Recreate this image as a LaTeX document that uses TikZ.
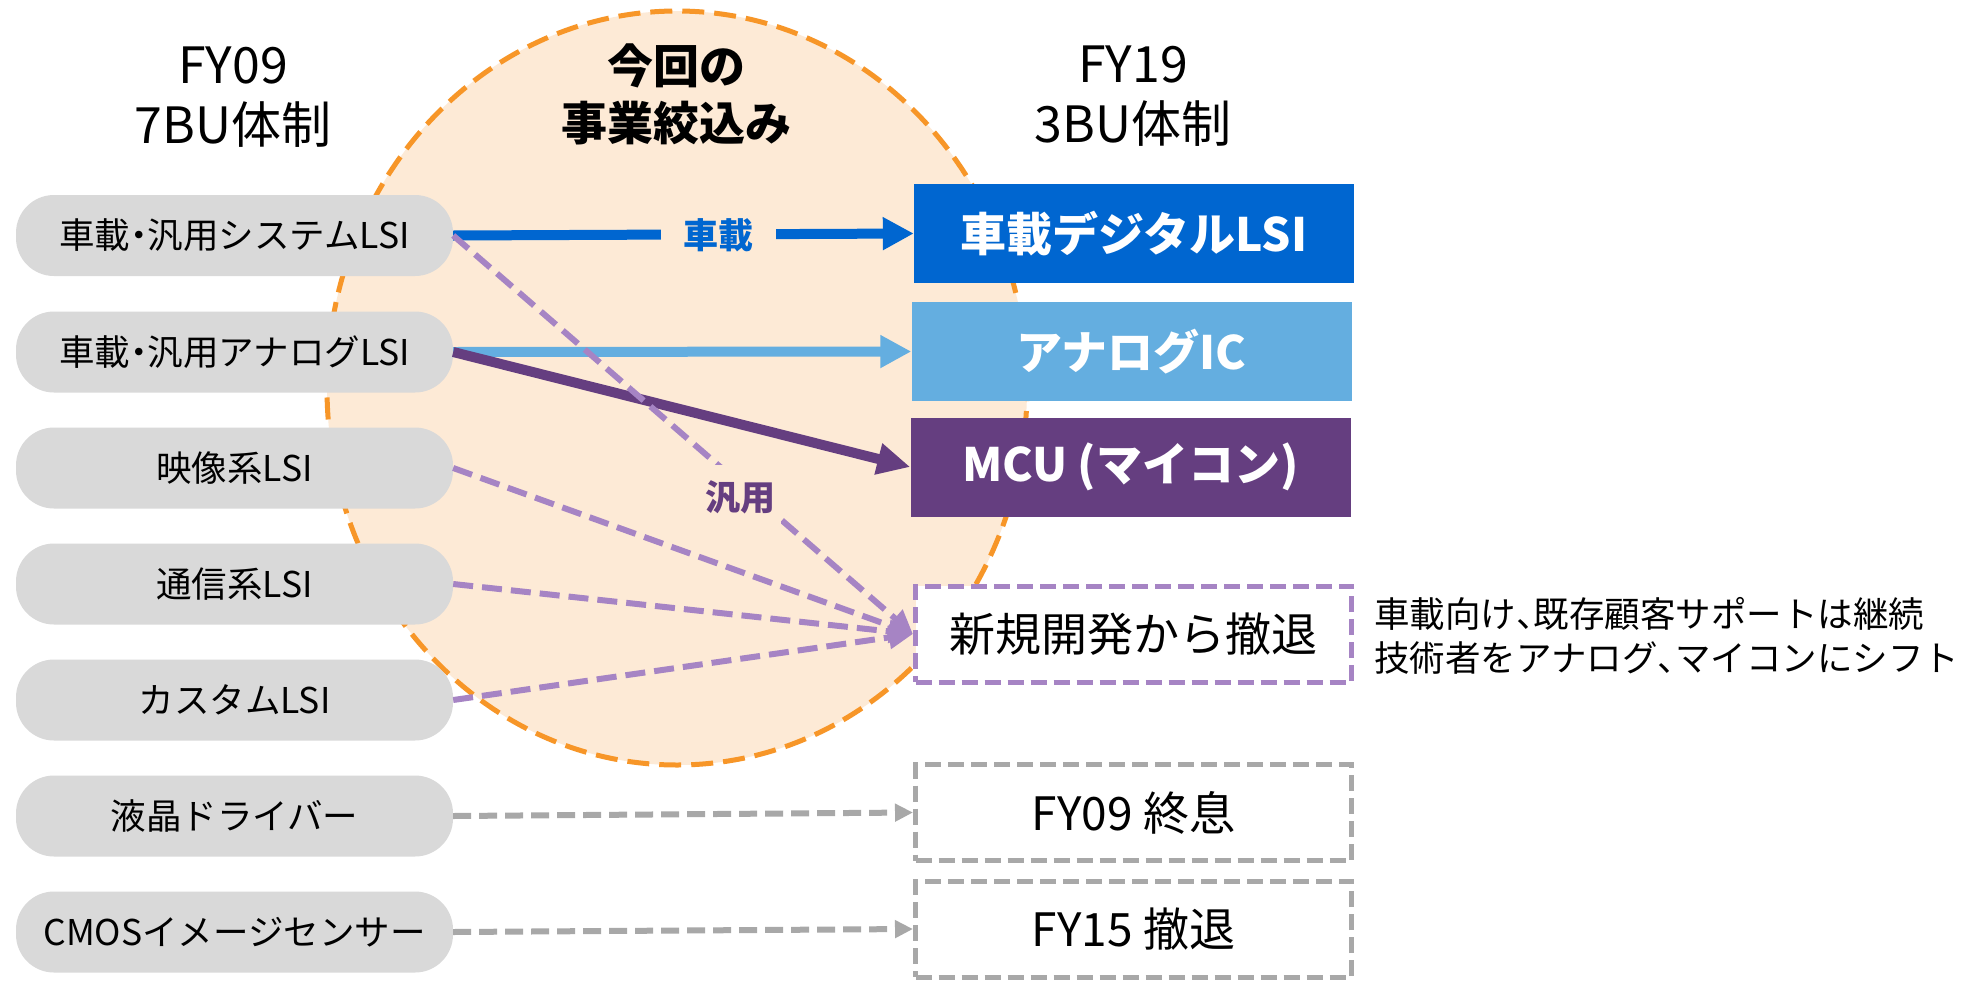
\documentclass[tikz,border=0pt]{standalone}
\usepackage{fontspec}
\setmainfont{Noto Sans CJK JP}
\newfontfamily\hwfont{Noto Sans CJK JP}[RawFeature=+halt]
\newcommand{\hwdot}{{\hwfont ・}}
\newcommand{\hwcomma}{{\hwfont 、}}
\usetikzlibrary{arrows.meta}
\definecolor{peach}{RGB}{253,234,214}
\definecolor{orng}{RGB}{247,150,40}
\definecolor{dblue}{RGB}{0,102,208}
\definecolor{lblue}{RGB}{100,174,224}
\definecolor{dpurp}{RGB}{101,62,128}
\definecolor{lpurp}{RGB}{166,132,196}
\definecolor{pillgray}{RGB}{217,217,217}
\definecolor{dgray}{RGB}{168,168,168}
\begin{document}
\begin{tikzpicture}[x=1pt,y=-1pt,
  pill/.style={fill=pillgray, rounded corners=38pt, minimum width=437pt, minimum height=81pt, inner sep=0pt, font=\fontsize{35.5pt}{40pt}\selectfont},
  solidbox/.style={minimum width=440pt, minimum height=99pt, inner sep=0pt, text=white, font=\fontsize{46pt}{54pt}\selectfont\bfseries},
  dashbox/.style={draw, line width=5pt, dash pattern=on 16pt off 7pt, fill=white, minimum width=436pt, minimum height=96pt, inner sep=0pt, font=\fontsize{46pt}{54pt}\selectfont},
  header/.style={align=center, inner sep=0pt, font=\fontsize{50pt}{60pt}\selectfont},
  solidarrow/.style={line width=10pt, -{Triangle[length=31pt,width=31pt]}},
  purpdash/.style={draw=lpurp, line width=6pt, dash pattern=on 20pt off 9pt, -{Triangle[length=24pt,width=22pt]}},
  graydash/.style={draw=dgray, line width=6pt, dash pattern=on 18pt off 8pt, -{Triangle[length=18pt,width=17pt]}},
  lbl/.style={fill=peach, inner sep=0pt, font=\fontsize{35pt}{40pt}\selectfont\bfseries}
]
\useasboundingbox (0,0) rectangle (1970,980);
\fill[white] (0,0) rectangle (1970,980);

% ellipse
\draw[orng, line width=5pt, dash pattern=on 22pt off 10pt, fill=peach] (677,388) ellipse [x radius=350pt, y radius=377pt];

% headers
\node[header] (h1) at (233,97) {FY09\\7BU体制};
\node[header] (h2) at (1133,96) {FY19\\3BU体制};
\node[align=center, inner sep=0pt, font=\fontsize{46pt}{57pt}\selectfont\bfseries] (h3) at (676,94) {今回の\\事業絞込み};

% pills
\node[pill] (p1) at (234.5,235.5) {車載\hwdot 汎用システムLSI};
\node[pill] (p2) at (234.5,352) {車載\hwdot 汎用アナログLSI};
\node[pill] (p3) at (234.5,468) {映像系LSI};
\node[pill] (p4) at (234.5,584) {通信系LSI};
\node[pill] (p5) at (234.5,700) {カスタムLSI};
\node[pill] (p6) at (234.5,816) {液晶ドライバー};
\node[pill] (p7) at (234.5,932) {CMOSイメージセンサー};

% right boxes
\node[solidbox, fill=dblue] (b1) at (1134,233.5) {車載デジタルLSI};
\node[solidbox, fill=lblue] (b2) at (1131.5,351.5) {アナログIC};
\node[solidbox, fill=dpurp] (b3) at (1130.5,467) {MCU (マイコン)};
\node[dashbox, draw=lpurp] (b4) at (1133.5,634) {新規開発から撤退};
\node[dashbox, draw=dgray] (b5) at (1133.5,812.5) {FY09 終息};
\node[dashbox, draw=dgray] (b6) at (1133.5,929) {FY15 撤退};

% side note
\node[anchor=west, align=left, inner sep=0pt, font=\fontsize{35.5pt}{44pt}\selectfont] (note) at (1374,636) {車載向け\hwcomma 既存顧客サポートは継続\\技術者をアナログ\hwcomma マイコンにシフト};

% solid arrows
\draw[solidarrow, dblue] (p1.east) -- (b1.west);
\draw[solidarrow, lblue] (p2.east) -- (b2.west);
\draw[line width=10pt, dpurp, -{Triangle[length=33pt,width=30pt]}] (p2.east) -- (b3.west);

% dashed arrows
\draw[purpdash] (p1.east) -- (b4.west);
\draw[purpdash] (p3.east) -- (b4.west);
\draw[purpdash] (p4.east) -- (b4.west);
\draw[purpdash] (p5.east) -- (b4.west);
\draw[graydash] (p6.east) -- (b5.west);
\draw[graydash] (p7.east) -- (b6.west);

% labels
\node[lbl, text=dblue, minimum width=115pt, minimum height=40pt] (l1) at (718,235) {車載};
\node[lbl, text=dpurp, minimum width=82pt, minimum height=64pt] (l2) at (740,497) {汎用};
\end{tikzpicture}
\end{document}
